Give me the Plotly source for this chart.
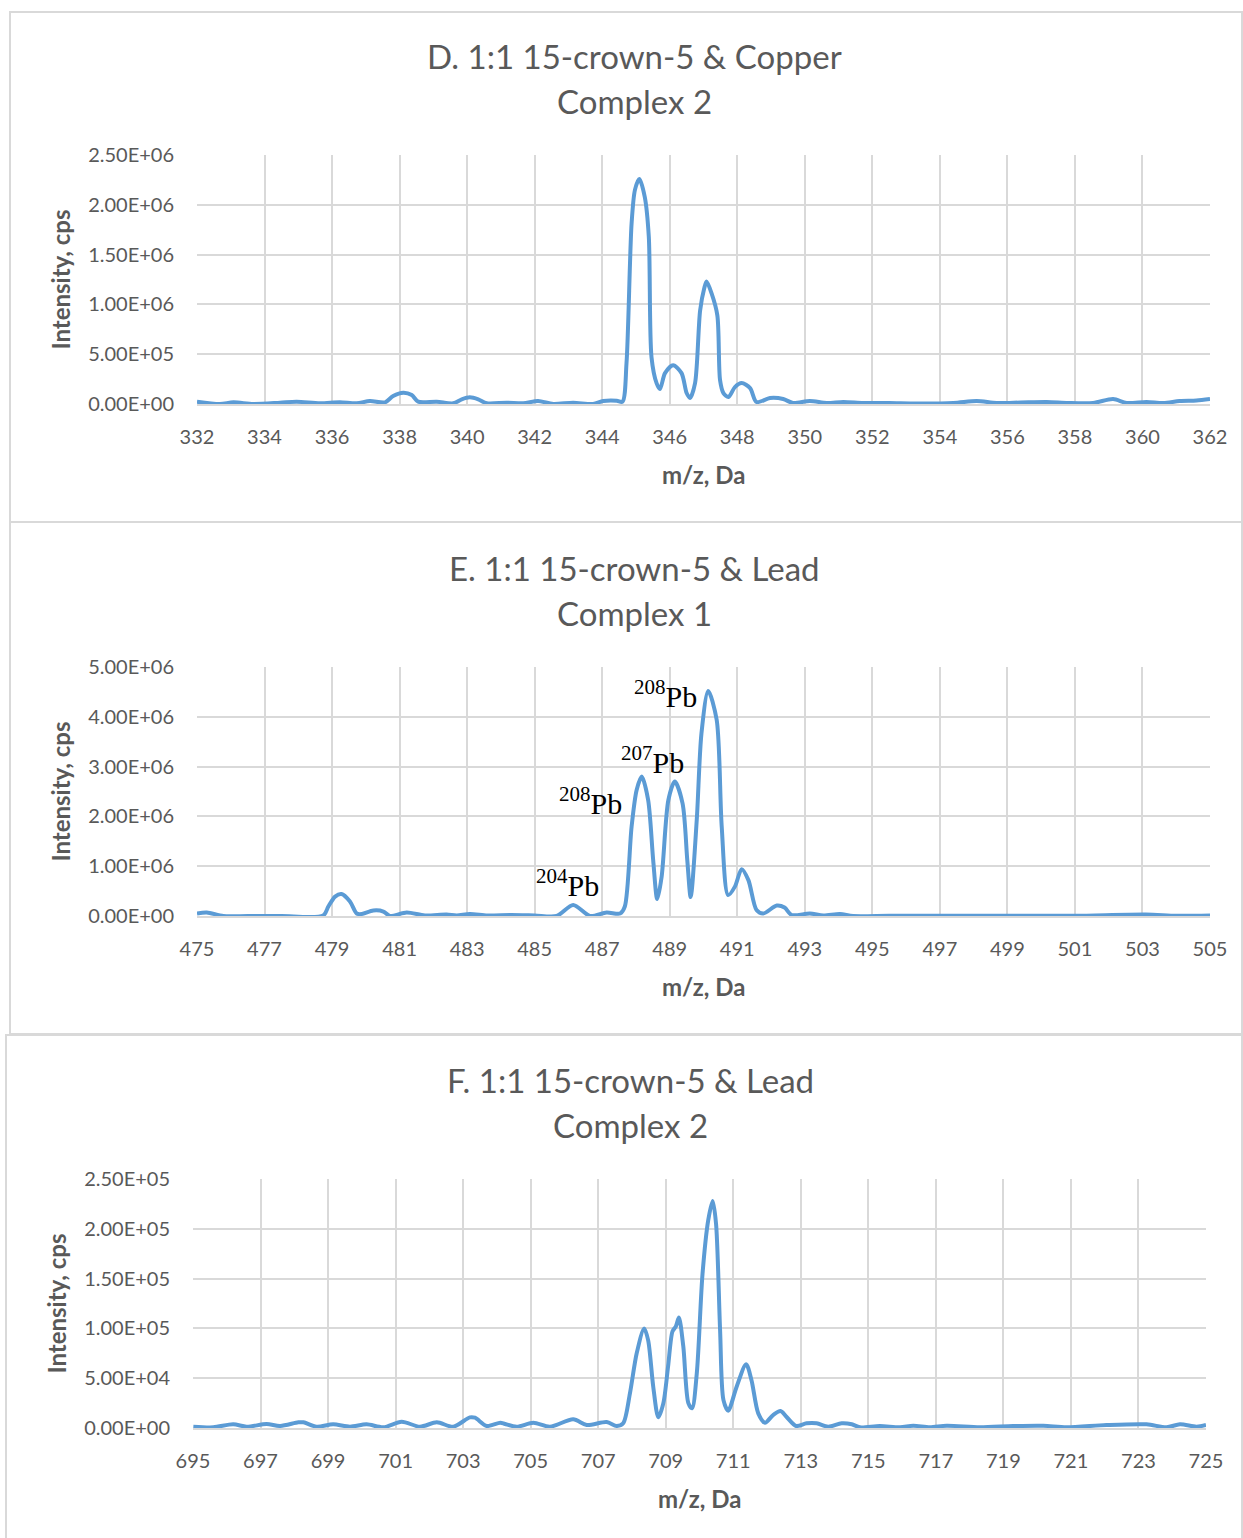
import plotly.graph_objects as go

# ---------------- data ----------------
# D. 15-crown-5 + Cu, complex 2
mz_d = [332.0, 332.68, 333.08, 333.67, 334.46, 334.95, 335.64, 336.23, 336.73, 337.12,
        337.57, 337.81, 338.11, 338.36, 338.55, 339.1, 339.59, 339.84, 340.08, 340.33,
        340.58, 341.17, 341.66, 342.1, 342.55, 343.14, 343.73, 344.03, 344.43, 344.6,
        344.72, 344.87, 344.97, 345.1, 345.26, 345.38, 345.46, 345.61, 345.71, 345.86,
        346.1, 346.35, 346.5, 346.6, 346.75, 346.9, 347.02, 347.09, 347.24, 347.41,
        347.49, 347.59, 347.74, 347.93, 348.13, 348.38, 348.57, 348.97, 349.36, 349.65,
        350.15, 350.65, 351.14, 351.73, 352.5, 353.3, 354.4, 355.09, 355.68, 356.4,
        357.16, 357.8, 358.54, 359.13, 359.53, 360.12, 360.62, 361.1, 361.6, 362.0]
int_d = [0.023e6, 0.0, 0.017e6, 0.0, 0.013e6, 0.023e6, 0.007e6, 0.017e6, 0.007e6, 0.03e6,
         0.017e6, 0.08e6, 0.113e6, 0.09e6, 0.023e6, 0.023e6, 0.007e6, 0.047e6, 0.067e6, 0.047e6,
         0.007e6, 0.013e6, 0.007e6, 0.03e6, 0.0, 0.013e6, 0.0, 0.03e6, 0.033e6, 0.023e6,
         0.41e6, 1.81e6, 2.15e6, 2.26e6, 2.08e6, 1.68e6, 0.47e6, 0.21e6, 0.15e6, 0.31e6,
         0.39e6, 0.31e6, 0.11e6, 0.06e6, 0.21e6, 0.94e6, 1.16e6, 1.23e6, 1.11e6, 0.89e6,
         0.24e6, 0.11e6, 0.07e6, 0.17e6, 0.21e6, 0.16e6, 0.02e6, 0.06e6, 0.05e6, 0.01e6,
         0.03e6, 0.01e6, 0.02e6, 0.01e6, 0.01e6, 0.005e6, 0.01e6, 0.03e6, 0.01e6, 0.015e6,
         0.02e6, 0.01e6, 0.01e6, 0.05e6, 0.01e6, 0.02e6, 0.01e6, 0.03e6, 0.035e6, 0.05e6]

# E. 15-crown-5 + Pb, complex 1
mz_e = [475.0, 475.29, 475.78, 476.5, 477.5, 478.74, 478.89, 479.09, 479.28, 479.53,
        479.73, 479.88, 480.22, 480.52, 480.71, 481.21, 481.75, 482.39, 482.69, 483.08,
        483.6, 484.3, 485.0, 485.65, 486.14, 486.64, 487.13, 487.53, 487.67, 487.87,
        488.02, 488.17, 488.36, 488.51, 488.63, 488.76, 488.96, 489.15, 489.38, 489.52,
        489.62, 489.8, 489.94, 490.14, 490.39, 490.54, 490.73, 490.93, 491.13, 491.33,
        491.57, 491.77, 492.17, 492.4, 492.61, 493.15, 493.55, 494.04, 494.43, 495.5,
        497.0, 499.0, 501.0, 503.1, 504.0, 505.0]
int_e = [0.05e6, 0.07e6, 0.0, 0.0, 0.0, 0.01e6, 0.19e6, 0.39e6, 0.44e6, 0.29e6,
         0.05e6, 0.04e6, 0.11e6, 0.09e6, 0.0, 0.07e6, 0.01e6, 0.03e6, 0.01e6, 0.04e6,
         0.01e6, 0.02e6, 0.01e6, 0.0, 0.22e6, 0.0, 0.07e6, 0.05e6, 0.19e6, 1.79e6,
         2.53e6, 2.80e6, 2.33e6, 1.12e6, 0.34e6, 0.79e6, 2.33e6, 2.70e6, 2.26e6, 1.12e6,
         0.38e6, 1.93e6, 3.67e6, 4.52e6, 3.94e6, 1.79e6, 0.42e6, 0.59e6, 0.94e6, 0.72e6,
         0.12e6, 0.05e6, 0.21e6, 0.17e6, 0.02e6, 0.05e6, 0.01e6, 0.04e6, 0.0, 0.005e6,
         0.005e6, 0.005e6, 0.005e6, 0.03e6, 0.005e6, 0.01e6]

# F. 15-crown-5 + Pb, complex 2
mz_f = [695.01, 695.6, 696.19, 696.59, 697.18, 697.58, 698.12, 698.27, 698.66, 699.15,
        699.65, 700.14, 700.64, 701.18, 701.72, 702.22, 702.71, 703.2, 703.35, 703.7,
        704.1, 704.24, 704.59, 705.08, 705.57, 706.26, 706.66, 707.25, 707.55, 707.74,
        707.94, 708.14, 708.36, 708.48, 708.63, 708.78, 708.93, 709.07, 709.2, 709.3,
        709.39, 709.52, 709.67, 709.78, 709.92, 710.09, 710.26, 710.39, 710.49, 710.61,
        710.71, 710.85, 711.1, 711.38, 711.54, 711.74, 711.94, 712.18, 712.4, 712.58,
        712.86, 713.17, 713.47, 713.81, 714.21, 714.51, 714.75, 715.34, 715.94, 716.33,
        716.82, 717.32, 718.3, 719.29, 720.18, 720.87, 722.05, 723.24, 723.83, 724.23,
        724.72, 725.0]
int_f = [1300, 700, 3700, 1300, 4000, 2000, 5700, 5700, 1300, 3700,
         1300, 3700, 700, 6300, 1300, 5700, 1300, 10700, 10300, 2000,
         5300, 4000, 1300, 5300, 1300, 8700, 3000, 6000, 2000, 4700,
         34800, 75000, 100000, 88000, 41500, 10700, 25000, 62000, 97000, 102000,
         111000, 82000, 25000, 19800, 55000, 155000, 209000, 228000, 205000, 98000,
         28000, 17400, 41500, 64000, 48000, 14700, 5300, 13000, 17000, 11000,
         2000, 4700, 4700, 1300, 4700, 3700, 700, 2000, 700, 2300,
         700, 2300, 700, 2000, 2300, 700, 3000, 3700, 700, 3700,
         1300, 3000]

titles = [("D. 1:1 15-crown-5 & Copper", "Complex 2"),
          ("E. 1:1 15-crown-5 & Lead", "Complex 1"),
          ("F. 1:1 15-crown-5 & Lead", "Complex 2")]
x_ticks_d = list(range(332, 363, 2))
x_ticks_e = list(range(475, 506, 2))
x_ticks_f = list(range(695, 726, 2))
y_ticks_d = [0, 5e5, 1e6, 1.5e6, 2e6, 2.5e6]
y_ticks_e = [0, 1e6, 2e6, 3e6, 4e6, 5e6]
y_ticks_f = [0, 5e4, 1e5, 1.5e5, 2e5, 2.5e5]

pb_labels = ["208", "207", "208", "204"]
pb_pos = [(488.87, 4.46e6), (488.50, 3.13e6), (486.64, 2.31e6), (485.96, 0.66e6)]

# ---------------- layout helpers ----------------
W, H = 1243, 1538
def px(xp):
    return xp / W
def py(yp):
    return 1 - yp / H

GRID = "#d9d9d9"
TXT = "#595959"
LINE = "#5b9bd5"
FONT = "Lato, Carlito, Calibri, sans-serif"

# plot areas in pixels: (left, right, top, bottom)
areas = [(197, 1210, 155, 404), (197, 1210, 667, 916), (193, 1206, 1179, 1428)]
series = [(mz_d, int_d, x_ticks_d, y_ticks_d),
          (mz_e, int_e, x_ticks_e, y_ticks_e),
          (mz_f, int_f, x_ticks_f, y_ticks_f)]

fig = go.Figure()
layout = dict(width=W, height=H, autosize=False,
              margin=dict(l=0, r=0, t=0, b=0, pad=0),
              paper_bgcolor="white", plot_bgcolor="white", showlegend=False)

annotations = []
shapes = []

for i, ((l, r, t, b), (xs, ys, xt, yt)) in enumerate(zip(areas, series)):
    n = "" if i == 0 else str(i + 1)
    fig.add_trace(go.Scatter(x=xs, y=ys, mode="lines", xaxis="x" + n, yaxis="y" + n,
                             line=dict(color=LINE, width=4, shape="spline", smoothing=0.8),
                             hoverinfo="skip"))
    layout["xaxis" + n] = dict(domain=[px(l), px(r)], anchor="y" + n, automargin=False,
                               range=[xt[0], xt[-1]], tickvals=xt,
                               ticktext=[str(v) for v in xt],
                               showgrid=True, gridcolor=GRID, gridwidth=2,
                               showline=True, linecolor=GRID, linewidth=2,
                               zeroline=False, ticks="", ticklabelstandoff=14,
                               tickfont=dict(family=FONT, size=20, color=TXT))
    layout["yaxis" + n] = dict(domain=[py(b), py(t)], anchor="x" + n, automargin=False,
                               range=[yt[0], yt[-1]], tickvals=yt,
                               ticktext=["%.2E" % v for v in yt],
                               showgrid=True, gridcolor=GRID, gridwidth=2,
                               showline=False, zeroline=False, ticks="",
                               ticklabelstandoff=22,
                               tickfont=dict(family=FONT, size=20, color=TXT))
    # chart title, two lines
    cx = 634 if i < 2 else 630
    top = 512 * i
    for k, line_txt in enumerate(titles[i]):
        annotations.append(dict(text=line_txt, xref="paper", yref="paper",
                                x=px(cx), y=py(56 + top + 45 * k), xanchor="center",
                                yanchor="middle", showarrow=False,
                                font=dict(family=FONT, size=33, color=TXT)))
    # axis titles
    annotations.append(dict(text="<b>m/z, Da</b>", xref="paper", yref="paper",
                            x=px((l + r) / 2), y=py(b + 70), xanchor="center",
                            yanchor="middle", showarrow=False,
                            font=dict(family=FONT, size=24, color=TXT)))
    annotations.append(dict(text="<b>Intensity, cps</b>", xref="paper", yref="paper",
                            x=px(l - 137), y=py((t + b) / 2), xanchor="center",
                            yanchor="middle", textangle=-90, showarrow=False,
                            font=dict(family=FONT, size=24, color=TXT)))

# isotope labels on panel E
for lab, (xv, yv) in zip(pb_labels, pb_pos):
    annotations.append(dict(text="<sup>%s</sup>Pb" % lab, xref="x2", yref="y2",
                            x=xv, y=yv, xanchor="center", yanchor="middle",
                            showarrow=False,
                            font=dict(family="Liberation Serif, Times New Roman, serif",
                                      size=30, color="black")))

# chart frames
frames = [(10, 12, 1242, 522), (10, 522, 1242, 1034), (6, 1035, 1242, 1540)]
for x0, y0, x1, y1 in frames:
    shapes.append(dict(type="rect", xref="paper", yref="paper", x0=px(x0), x1=px(x1),
                       y0=py(y1), y1=py(y0), line=dict(color=GRID, width=2),
                       fillcolor="rgba(0,0,0,0)", layer="below"))

layout["annotations"] = annotations
layout["shapes"] = shapes
fig.update_layout(**layout)
fig.write_html("out.html")
